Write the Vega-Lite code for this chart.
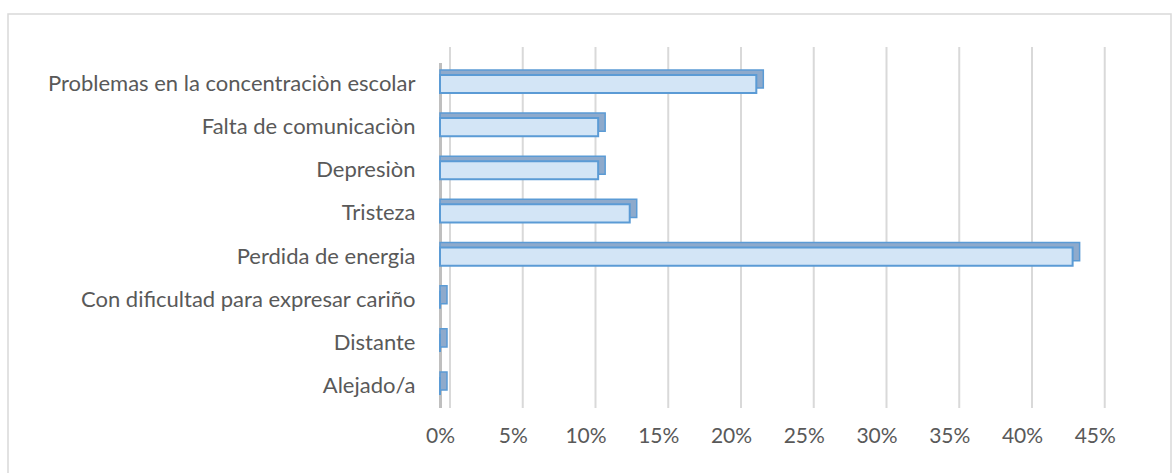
{
  "$schema": "https://vega.github.io/schema/vega-lite/v6.json",
  "width": 1163,
  "height": 470,
  "autosize": "none",
  "padding": {"left": 8, "top": 14, "right": 1, "bottom": 0},
  "background": "white",
  "config": {
    "view": {"stroke": "#d9d9d9", "strokeWidth": 1.5},
    "font": "Lato",
    "axis": {"labelFont": "Lato", "labelFontSize": 22, "labelColor": "#595959"}
  },
  "datasets": {
    "bars": [
      {"categoria": "Problemas en la concentraciòn escolar", "pct": 0.2174},
      {"categoria": "Falta de comunicaciòn", "pct": 0.1087},
      {"categoria": "Depresiòn", "pct": 0.1087},
      {"categoria": "Tristeza", "pct": 0.1304},
      {"categoria": "Perdida de energia", "pct": 0.4348},
      {"categoria": "Con dificultad para expresar cariño", "pct": 0},
      {"categoria": "Distante", "pct": 0},
      {"categoria": "Alejado/a", "pct": 0}
    ],
    "grid": [
      {"v": 0}, {"v": 0.05}, {"v": 0.1}, {"v": 0.15}, {"v": 0.2},
      {"v": 0.25}, {"v": 0.3}, {"v": 0.35}, {"v": 0.4}, {"v": 0.45}
    ]
  },
  "layer": [
    {
      "data": {"name": "grid"},
      "mark": {"type": "rule", "color": "#d9d9d9", "strokeWidth": 2, "xOffset": 10, "yOffset": -37, "y2Offset": 22},
      "encoding": {
        "x": {"field": "v", "type": "quantitative"},
        "y": {"datum": "Problemas en la concentraciòn escolar", "type": "nominal"},
        "y2": {"datum": "Alejado/a"}
      }
    },
    {
      "data": {"name": "bars"},
      "mark": {"type": "bar", "fill": "#8eaacc", "stroke": "#5b9bd5", "strokeWidth": 1.5, "xOffset": 7, "yOffset": -5},
      "encoding": {
        "x": {"field": "pct", "type": "quantitative"},
        "x2": {"datum": 0},
        "y": {"field": "categoria", "type": "nominal"}
      }
    },
    {
      "data": {"name": "bars"},
      "mark": {"type": "bar", "fill": "#d3e5f6", "stroke": "#5b9bd5", "strokeWidth": 2},
      "encoding": {
        "x": {
          "field": "pct",
          "type": "quantitative",
          "scale": {"domain": [-0.29691, 0.50241], "nice": false, "zero": false},
          "axis": {
            "title": null,
            "orient": "bottom",
            "values": [0, 0.05, 0.1, 0.15, 0.2, 0.25, 0.3, 0.35, 0.4, 0.45],
            "format": ".0%",
            "labelFontSize": 21,
            "grid": false,
            "ticks": false,
            "domain": false,
            "offset": -61,
            "labelPadding": 2
          }
        },
        "x2": {"datum": 0},
        "y": {
          "field": "categoria",
          "type": "nominal",
          "scale": {
            "domain": [
              "Problemas en la concentraciòn escolar",
              "Falta de comunicaciòn",
              "Depresiòn",
              "Tristeza",
              "Perdida de energia",
              "Con dificultad para expresar cariño",
              "Distante",
              "Alejado/a"
            ],
            "range": [48.4, 393.6],
            "paddingInner": 0.58,
            "paddingOuter": 0.29
          },
          "axis": {
            "title": null,
            "orient": "left",
            "offset": -432,
            "ticks": false,
            "grid": false,
            "domain": true,
            "domainColor": "#bfbfbf",
            "domainWidth": 3,
            "labelPadding": 25,
            "labelLimit": 600
          }
        }
      }
    }
  ]
}
